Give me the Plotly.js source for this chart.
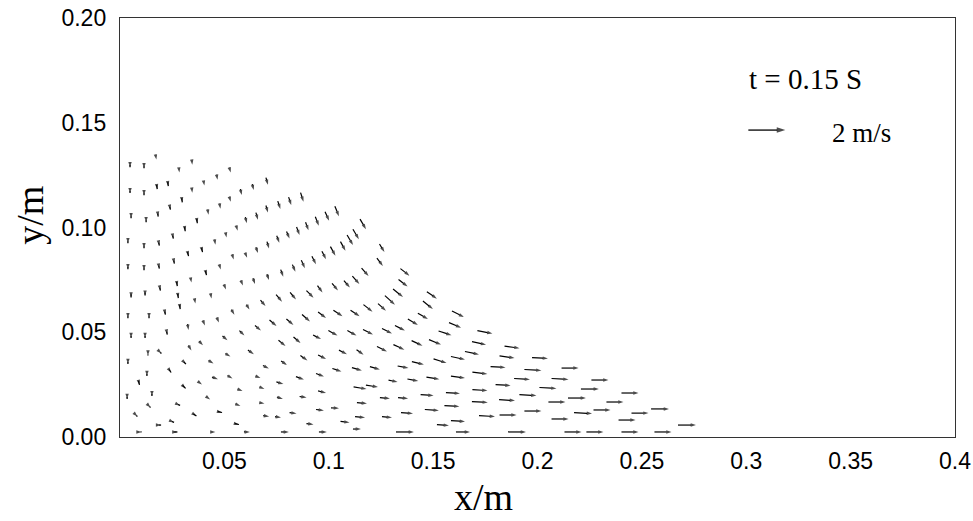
<!DOCTYPE html>
<html><head><meta charset="utf-8">
<script src="https://cdn.plot.ly/plotly-3.0.1.min.js"></script>
<style>html,body{margin:0;padding:0;background:#fff}#chart{width:973px;height:521px}</style>
</head><body><div id="chart"></div>
<script>
// ---- tick labels ----
const xTickVals = [0.05, 0.1, 0.15, 0.2, 0.25, 0.3, 0.35, 0.4];
const xTickText = ['0.05', '0.1', '0.15', '0.2', '0.25', '0.3', '0.35', '0.4'];
const yTickVals = [0, 0.05, 0.1, 0.15, 0.2];
const yTickText = ['0.00', '0.05', '0.10', '0.15', '0.20'];

// ---- particle positions (mm) ----
const posX_mm = [
4.8,11.5,17.2,28.3,34.5,52.7,46.5,40.2,23.0,17.7,
4.8,11.5,34.5,58.0,63.7,70.4,29.7,24.0,18.2,12.5,
5.3,42.2,47.9,52.7,36.9,60.4,65.6,70.4,76.2,81.4,
87.2,3.8,11.5,18.7,25.4,31.1,39.3,45.5,50.8,56.0,
65.6,70.9,75.7,80.5,85.3,89.6,94.4,99.2,103.9,116.4,
3.8,11.5,18.7,25.9,32.6,41.2,47.9,54.1,60.4,19.2,
27.3,34.0,50.3,58.4,64.2,70.9,77.6,83.3,87.7,92.9,
97.7,102.0,106.8,110.2,113.0,125.5,124.5,117.4,113.0,108.7,
103.0,95.8,136.5,135.6,149.4,133.2,129.3,147.5,125.5,161.9,
145.1,140.3,160.5,134.1,127.9,174.8,155.7,68.5,76.2,82.9,
91.0,73.3,81.4,89.1,96.8,104.4,112.6,118.8,77.6,84.8,
94.4,102.0,111.1,118.8,69.9,78.6,88.1,96.8,106.8,115.0,
125.5,133.6,142.3,103.9,113.5,122.1,76.6,86.2,95.8,115.0,
120.7,130.8,140.3,76.6,87.7,96.8,115.9,126.9,135.6,70.0,
75.7,82.9,91.0,95.8,103.0,107.8,115.0,127.9,137.5,79.0,
97.2,113.5,136.5,56.0,10.1,26.8,44.5,60.8,5.3,12.0,
27.8,35.9,43.6,54.1,61.3,3.8,13.9,21.6,28.7,32.6,
40.2,46.9,58.4,66.1,5.3,12.0,22.5,33.5,38.8,50.3,
62.7,13.4,19.6,31.1,43.6,51.7,3.8,12.9,24.0,45.5,
52.7,66.1,9.1,15.3,30.7,38.3,57.5,68.0,3.4,14.4,
28.3,42.2,47.9,56.5,68.0,8.1,19.2,25.4,35.9,150.9,
172.0,187.8,135.6,142.7,153.3,161.9,168.6,185.4,201.2,149.9,
161.9,172.4,181.1,197.8,215.6,192.6,210.8,229.9,147.1,159.5,
172.4,183.5,195.4,205.0,225.1,244.3,149.4,159.0,172.4,185.4,
197.8,209.3,218.9,237.1,221.8,230.9,249.1,258.7,154.7,161.9,
175.8,185.9,210.8,242.9,164.3,190.2,217.0,227.5,244.3,260.1,
271.6
];
const posY_mm = [
129.3,128.8,133.6,127.4,131.2,127.4,124.0,121.2,120.7,119.3,
116.9,115.9,117.8,116.9,119.3,122.1,113.0,109.2,105.9,103.0,
104.9,107.3,110.2,113.5,103.0,103.5,105.4,108.8,110.7,112.6,
114.5,93.0,90.6,92.1,95.4,99.2,89.2,93.0,96.4,99.7,
89.2,91.6,94.4,96.4,98.3,100.6,103.0,105.4,107.8,101.6,
80.6,80.1,81.1,83.5,87.3,78.2,81.1,85.9,86.8,70.6,
73.0,74.9,71.6,73.5,74.4,76.3,78.2,80.6,82.5,84.4,
86.8,88.7,91.1,94.0,96.8,90.2,83.5,78.7,74.9,73.0,
71.6,70.6,78.7,73.5,67.7,68.7,65.3,63.0,62.0,58.7,
57.7,54.9,53.4,52.0,50.6,50.1,49.6,63.9,66.3,67.3,
68.2,54.4,54.9,56.8,58.2,59.1,59.1,61.5,44.8,46.3,
47.7,49.6,49.6,50.1,33.4,35.3,37.7,38.2,40.5,40.5,
42.0,42.9,44.8,32.0,32.4,32.9,25.8,28.1,29.6,23.4,
24.3,26.7,27.2,18.6,19.1,21.5,16.2,18.6,18.6,10.0,
9.5,11.4,6.2,12.9,13.8,7.2,9.5,9.5,11.4,2.4,
2.4,3.8,2.4,6.2,2.4,2.4,2.4,2.4,67.3,68.2,
67.3,64.9,67.3,59.6,62.0,57.2,57.2,59.1,62.0,52.5,
54.4,55.8,49.6,52.0,47.7,47.7,49.6,42.5,44.8,47.2,
40.5,39.1,40.1,35.3,35.8,39.1,35.3,29.6,31.5,28.1,
28.6,28.6,25.8,20.0,23.9,25.8,22.4,23.4,18.6,14.3,
15.3,18.6,11.9,15.3,16.2,10.0,5.7,7.2,10.5,45.3,
44.8,42.9,33.4,35.3,36.3,37.7,40.1,38.2,37.7,28.1,
28.6,30.5,33.4,32.0,32.9,27.7,27.7,27.2,20.0,21.0,
22.4,24.8,20.0,23.4,22.9,21.0,12.9,14.8,16.7,17.6,
12.4,16.7,18.6,16.7,11.4,12.9,11.4,13.4,5.7,7.6,
10.0,10.5,8.6,8.1,2.4,2.4,2.4,2.4,2.4,2.4,
5.7
];
// ---- velocity components (m/s) ----
const velU = [
0,0,0.05,0.03,0.03,0.08,0.05,0.05,0.03,0.03,
0,0,0.03,0.08,0.08,0.11,0.03,0.03,0.02,0,
0,0.05,0.05,0.08,0.03,0.08,0.11,0.11,0.14,0.14,
0.16,0,0,0.03,0.03,0.03,0.05,0.05,0.05,0.08,
0.11,0.11,0.14,0.16,0.16,0.16,0.19,0.22,0.22,0.32,
0,0,0.03,0.03,0.05,0.05,0.08,0.08,0.11,0.03,
0.03,0.05,0.11,0.11,0.11,0.11,0.14,0.16,0.19,0.22,
0.22,0.27,0.27,0.32,0.32,0.27,0.32,0.38,0.38,0.32,
0.32,0.27,0.49,0.49,0.54,0.54,0.54,0.54,0.43,0.65,
0.54,0.54,0.65,0.54,0.54,0.81,0.70,0.27,0.32,0.32,
0.38,0.38,0.38,0.43,0.43,0.49,0.49,0.49,0.38,0.38,
0.43,0.49,0.49,0.54,0.32,0.32,0.38,0.43,0.43,0.38,
0.54,0.59,0.59,0.49,0.54,0.54,0.38,0.43,0.43,0.70,
0.65,0.49,0.59,0.32,0.38,0.43,0.54,0.54,0.54,0.32,
0.32,0.38,0.38,0.43,0.43,0.49,0.54,0.54,0.65,0.43,
0.43,0.43,0.97,0.22,0.05,0.16,0.27,0.32,0,0,
0.03,0.05,0.05,0.16,0.16,0,0,0.03,0.03,0.05,
0.11,0.11,0.27,0.32,0,0,0.03,0.16,0.22,0.27,
0.32,0,0.05,0.11,0.27,0.27,0,0,0.11,0.32,
0.27,0.27,0.05,0,0.16,0.22,0.27,0.27,0,0.05,
0.11,0.22,0.22,0.27,0.27,0.05,0.11,0.11,0.16,0.65,
0.76,0.81,0.59,0.65,0.70,0.76,0.76,0.81,0.86,0.70,
0.76,0.81,0.81,0.92,0.92,0.86,0.92,0.92,0.70,0.76,
0.81,0.81,0.92,0.92,0.97,0.92,0.76,0.81,0.86,0.86,
0.92,0.92,0.97,0.92,0.97,0.92,0.92,0.97,0.65,0.76,
0.86,0.92,0.92,0.92,0.76,0.97,0.92,0.92,0.92,0.92,
0.97
];
const velV = [
-0.11,-0.11,-0.27,-0.27,-0.27,-0.27,-0.27,-0.27,-0.22,-0.22,
-0.11,-0.11,-0.27,-0.32,-0.32,-0.38,-0.22,-0.16,-0.16,-0.11,
-0.11,-0.27,-0.27,-0.27,-0.22,-0.32,-0.38,-0.38,-0.43,-0.43,
-0.49,-0.11,-0.11,-0.16,-0.16,-0.22,-0.22,-0.27,-0.27,-0.27,
-0.32,-0.38,-0.38,-0.38,-0.43,-0.43,-0.49,-0.49,-0.54,-0.54,
-0.11,-0.11,-0.16,-0.16,-0.22,-0.22,-0.27,-0.27,-0.27,-0.16,
-0.22,-0.27,-0.27,-0.27,-0.32,-0.32,-0.38,-0.38,-0.43,-0.43,
-0.43,-0.49,-0.49,-0.54,-0.54,-0.43,-0.43,-0.43,-0.43,-0.38,
-0.38,-0.38,-0.38,-0.38,-0.38,-0.43,-0.49,-0.43,-0.38,-0.32,
-0.32,-0.32,-0.27,-0.27,-0.27,-0.16,-0.22,-0.32,-0.38,-0.38,
-0.38,-0.32,-0.32,-0.38,-0.32,-0.32,-0.32,-0.38,-0.32,-0.32,
-0.22,-0.27,-0.27,-0.27,-0.16,-0.22,-0.27,-0.22,-0.22,-0.27,
-0.27,-0.27,-0.27,-0.16,-0.16,-0.16,-0.11,-0.16,-0.16,-0.11,
-0.11,-0.11,-0.11,-0.11,-0.05,-0.11,-0.05,-0.05,-0.05,-0.05,
-0.05,-0.05,-0.05,-0.05,-0.03,-0.05,-0.05,-0.05,-0.05,0,
0,0,0,-0.05,0,0,0,0,-0.16,-0.16,
-0.22,-0.27,-0.27,-0.27,-0.27,-0.11,-0.11,-0.16,-0.22,-0.32,
-0.27,-0.27,-0.27,-0.27,-0.11,-0.11,-0.16,-0.27,-0.22,-0.22,
-0.22,-0.05,-0.05,-0.11,-0.16,-0.16,-0.11,-0.11,-0.16,-0.11,
-0.16,-0.11,-0.22,-0.11,-0.16,-0.16,-0.11,-0.11,-0.11,-0.05,
-0.05,-0.16,-0.05,-0.11,-0.05,-0.05,0,-0.05,-0.11,-0.27,
-0.16,-0.11,-0.11,-0.16,-0.22,-0.16,-0.16,-0.11,-0.05,-0.11,
-0.11,-0.11,-0.05,-0.05,0,-0.05,-0.05,0,-0.05,-0.05,
-0.05,-0.05,-0.05,-0.05,0,0,-0.05,-0.05,-0.05,-0.05,
0,0,0,0,-0.05,0,0,0,-0.05,-0.05,
-0.05,0,0,0,0,0,0,0,0,0,
0
];

const timeLabel = 't = 0.15 S';
const refSpeed = 2;          // m/s
const refLabel = '2 m/s';

// ---- style / layout constants ----
const ARROW_SCALE = 0.00886;  // m of arrow length per 1 m/s
const KEY_X = 0.301, KEY_Y = 0.1465;
const HEAD = 5.5;
const serif = 'Liberation Serif, Times New Roman, serif';
const sans = 'Liberation Sans, Arial, Helvetica, sans-serif';

const n = Math.min(posX_mm.length, posY_mm.length, velU.length, velV.length);
const qx = [], qy = [], qs = [];
function addArrow(x0, y0, x1, y1, head) {
  qx.push(x0, x1, null); qy.push(y0, y1, null); qs.push(0, head, 0);
}
for (let i = 0; i < n; i++) {
  const x = posX_mm[i] / 1000, y = posY_mm[i] / 1000;
  const hx = velU[i] * ARROW_SCALE / 2, hy = velV[i] * ARROW_SCALE / 2;
  addArrow(x - hx, y - hy, x + hx, y + hy, HEAD);
}
const kx = [KEY_X, KEY_X + refSpeed * ARROW_SCALE], ky = [KEY_Y, KEY_Y];

const data = [
  {x: qx, y: qy, type: 'scatter', mode: 'lines+markers', connectgaps: false,
   line: {color: '#000', width: 1.2},
   marker: {symbol: 'arrow', angleref: 'previous', size: qs, color: '#000', line: {width: 0}},
   hoverinfo: 'skip', showlegend: false, cliponaxis: false},
  {x: kx, y: ky, type: 'scatter', mode: 'lines+markers',
   line: {color: '#000', width: 1.3},
   marker: {symbol: 'arrow', angleref: 'previous', size: [0, 9], color: '#000', line: {width: 0}},
   hoverinfo: 'skip', showlegend: false}
];

const annotations = [
  {xref: 'paper', yref: 'paper', x: 0.751, y: 0.855, xanchor: 'left', yanchor: 'middle',
   text: timeLabel, showarrow: false, font: {family: serif, size: 29, color: '#000'}},
  {xref: 'paper', yref: 'paper', x: 0.850, y: 0.7255, xanchor: 'left', yanchor: 'middle',
   text: refLabel, showarrow: false, font: {family: serif, size: 27, color: '#000'}},
  {xref: 'paper', yref: 'paper', x: 0.435, y: -0.143, xanchor: 'center', yanchor: 'middle',
   text: 'x/m', showarrow: false, font: {family: serif, size: 38, color: '#000'}},
  {xref: 'paper', yref: 'paper', x: -0.108, y: 0.53, xanchor: 'center', yanchor: 'middle',
   text: 'y/m', textangle: -90, showarrow: false, font: {family: serif, size: 38, color: '#000'}}
];

const layout = {
  width: 973, height: 521,
  margin: {l: 120, r: 18, t: 18, b: 84},
  paper_bgcolor: '#fff', plot_bgcolor: '#fff',
  showlegend: false,
  xaxis: {range: [0, 0.4], tickvals: xTickVals, ticktext: xTickText, showgrid: false, zeroline: false,
    showline: true, mirror: true, linecolor: '#333', linewidth: 1.2, ticks: '',
    tickfont: {family: sans, size: 23, color: '#000'}, ticklabelstandoff: 3},
  yaxis: {range: [0, 0.2], tickvals: yTickVals, ticktext: yTickText, showgrid: false, zeroline: false,
    showline: true, mirror: true, linecolor: '#333', linewidth: 1.2, ticks: '',
    tickfont: {family: sans, size: 23, color: '#000'}, ticklabelstandoff: 8},
  annotations: annotations
};
Plotly.newPlot('chart', data, layout, {staticPlot: true, displayModeBar: false});
</script>
</body></html>
